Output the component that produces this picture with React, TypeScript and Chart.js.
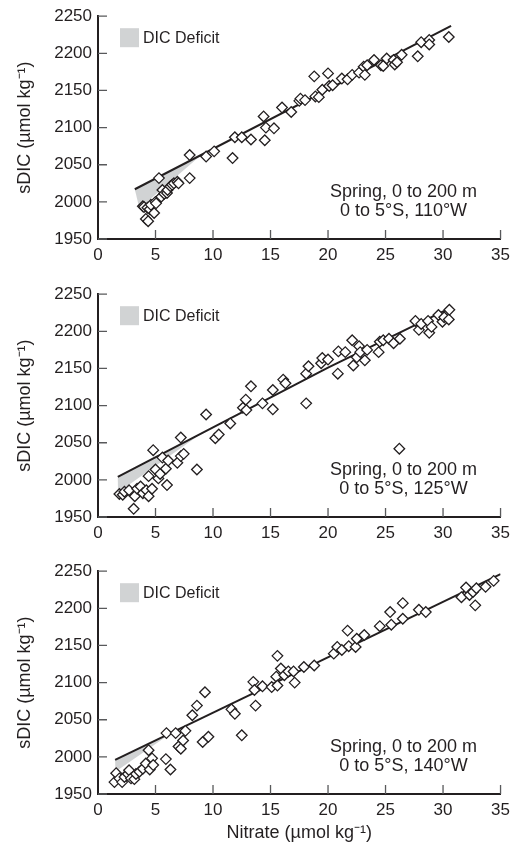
import React, { useEffect, useRef } from "react";
import { Chart, registerables } from "chart.js";

Chart.register(...registerables);

const FONT = "'Liberation Sans', Arial, Helvetica, sans-serif";
const INK = "#231f20";
const TICK_GRAY = "#58595b";
const DEFICIT_GRAY = "#d1d3d4";

// Axis ticks
const xTickValues = [0, 5, 10, 15, 20, 25, 30, 35];
const yTickValues = [1950, 2000, 2050, 2100, 2150, 2200, 2250];

// Texts
const legendLabel = "DIC Deficit";
const yAxisTitle = "sDIC (\u00B5mol kg\u207B\u00B9)";
const xAxisTitle = "Nitrate (\u00B5mol kg\u207B\u00B9)";
const panelLine1 = ["Spring, 0 to 200 m", "Spring, 0 to 200 m", "Spring, 0 to 200 m"];
const panelLine2 = ["0 to 5\u00B0S, 110\u00B0W", "0 to 5\u00B0S, 125\u00B0W", "0 to 5\u00B0S, 140\u00B0W"];

// ---- Panel 1: 110°W ----
const nitrate110 = [
  3.9, 4.0, 4.16, 4.3, 4.36, 4.5, 4.6, 4.88, 5.0, 5.05, 5.3, 5.5, 5.6, 5.76, 6.0, 6.05,
  6.3, 6.45, 6.6, 6.9, 7.0, 7.97, 7.97, 9.4, 10.1, 11.7, 11.9, 12.5, 13.3, 14.4, 14.5,
  14.6, 15.3, 16.0, 16.8, 17.5, 17.6, 18.0, 18.8, 18.9, 19.2, 19.5, 20.0, 20.1, 20.4,
  21.2, 21.7, 22.1, 22.7, 23.1, 23.2, 23.4, 24.0, 24.6, 24.8, 25.1, 25.7, 25.8, 26.0,
  26.4, 27.8, 28.1, 28.8, 28.8, 30.5,
];
const sdic110 = [
  1994, 1993, 1977, 1992, 1974, 1990, 1996, 1985, 2000, 1998, 2032, 2007, 2016, 2011, 2012, 2016,
  2021, 2023, 2025, 2027, 2025, 2063, 2032, 2061, 2068, 2059, 2087, 2087, 2084, 2115, 2083,
  2100, 2099, 2127, 2121, 2136, 2139, 2137, 2169, 2142, 2141, 2151, 2173, 2156, 2157,
  2166, 2165, 2171, 2174, 2182, 2171, 2184, 2191, 2184, 2183, 2193, 2191, 2185, 2188,
  2198, 2196, 2215, 2218, 2212, 2222,
];
const fitNitrate110 = [3.2, 30.7];
const fitSdic110 = [2017, 2237];
const deficitNitrate110 = [3.2, 3.6, 9.05];
const deficitSdic110 = [2017, 1991, 2064];

// ---- Panel 2: 125°W ----
const nitrate125 = [
  1.86, 2.15, 2.3, 2.7, 3.1, 3.2, 3.4, 3.7, 3.9, 4.2, 4.4, 4.4, 4.7, 4.8, 5.0, 5.25, 5.4,
  5.6, 5.9, 6.1, 6.0, 6.9, 7.2, 7.2, 7.45, 8.6, 9.4, 10.2, 10.5, 11.5, 12.6, 12.85, 12.9,
  13.3, 14.3, 15.2, 15.2, 16.1, 16.3, 18.1, 18.1, 18.3, 19.4, 19.5, 20.0, 20.85, 20.9,
  21.5, 22.1, 22.2, 22.5, 22.7, 22.8, 23.2, 23.4, 24.4, 24.5, 24.8, 25.3, 25.7, 26.2,
  26.25, 27.6, 27.9, 28.1, 28.7, 28.8, 29.0, 29.6, 29.95, 30.1, 30.5, 30.55,
];
const sdic125 = [
  1981, 1980, 1984, 1986, 1961, 1978, 1988, 1991, 1982, 1986, 1978, 2005, 1988, 2040, 2014, 2002, 2008,
  2030, 2015, 2026, 1993, 2023, 2057, 2032, 2035, 2014, 2088, 2056, 2061, 2076, 2097, 2108, 2094,
  2126, 2103, 2121, 2095, 2135, 2130, 2103, 2143, 2153, 2157, 2164, 2162, 2143, 2173,
  2172, 2188, 2154, 2165, 2180, 2172, 2161, 2175, 2172, 2186, 2188, 2190, 2184, 2042,
  2190, 2214, 2202, 2210, 2214, 2198, 2206, 2222, 2213, 2219, 2216, 2229,
];
const fitNitrate125 = [1.72, 20, 30.55];
const fitSdic125 = [2004, 2151, 2231];
const deficitNitrate125 = [1.72, 1.74, 9.05];
const deficitSdic125 = [2004, 1983, 2063];

// ---- Panel 3: 140°W ----
const nitrate140 = [
  1.43, 1.58, 1.86, 2.1, 2.3, 2.6, 2.7, 2.87, 3.16, 3.3, 3.6, 3.9, 4.16, 4.4, 4.5, 4.7, 4.8,
  5.9, 5.95, 6.3, 6.75, 7.0, 7.2, 7.4, 7.6, 8.2, 8.6, 9.1, 9.3, 9.6, 11.6, 11.9, 12.5,
  13.5, 13.6, 13.7, 14.3, 15.1, 15.5, 15.6, 15.6, 15.9, 16.2, 16.55, 17.0, 17.1, 17.9,
  18.8, 20.5, 20.8, 21.2, 21.7, 21.8, 22.4, 22.5, 23.15, 24.5, 25.4, 25.5, 26.5, 26.5,
  27.9, 28.5, 31.6, 32.0, 32.3, 32.6, 32.8, 32.9, 33.7, 34.4,
];
const sdic140 = [
  1966, 1978, 1971, 1966, 1973, 1977, 1982, 1971, 1970, 1977, 1980, 1984, 1991, 2009, 1983, 1998, 1989,
  1997, 2032, 1983, 2032, 2014, 2011, 2022, 2035, 2056, 2069, 2020, 2087, 2027, 2064, 2058, 2029,
  2101, 2090, 2069, 2095, 2094, 2108, 2136, 2096, 2119, 2110, 2115, 2115, 2100, 2121,
  2123, 2139, 2148, 2144, 2170, 2149, 2148, 2159, 2164, 2176, 2195, 2178, 2207, 2186,
  2198, 2195, 2215, 2228, 2218, 2222, 2204, 2227, 2229, 2237,
];
const fitNitrate140 = [1.49, 35];
const fitSdic140 = [1996, 2246];
const deficitNitrate140 = [1.49, 1.51, 6.48];
const deficitSdic140 = [1996, 1980, 2033];

const toPoints = (xs: number[], ys: number[]) => xs.map((x, i) => ({ x, y: ys[i] }));

const panels = [
  { obsX: nitrate110, obsY: sdic110, fitX: fitNitrate110, fitY: fitSdic110, defX: deficitNitrate110, defY: deficitSdic110, top: 0, height: 270, showXTitle: false },
  { obsX: nitrate125, obsY: sdic125, fitX: fitNitrate125, fitY: fitSdic125, defX: deficitNitrate125, defY: deficitSdic125, top: 278, height: 270, showXTitle: false },
  { obsX: nitrate140, obsY: sdic140, fitX: fitNitrate140, fitY: fitSdic140, defX: deficitNitrate140, defY: deficitSdic140, top: 555, height: 289, showXTitle: true },
];

const decorPlugin = {
  id: "decor",
  afterDraw(chart: any, _args: any, opts: any) {
    const { ctx, chartArea: a, scales } = chart;
    const xs = scales.x;
    const ys = scales.y;
    ctx.save();
    // inward tick marks
    ctx.strokeStyle = TICK_GRAY;
    ctx.lineWidth = 1.3;
    ctx.beginPath();
    yTickValues.forEach((v) => {
      const y = ys.getPixelForValue(v);
      ctx.moveTo(a.left, y);
      ctx.lineTo(a.left + 9, y);
    });
    xTickValues.forEach((v) => {
      if (v === xs.min) return;
      const x = xs.getPixelForValue(v);
      ctx.moveTo(x, a.bottom);
      ctx.lineTo(x, a.bottom - 9);
    });
    ctx.stroke();

    // legend
    ctx.fillStyle = DEFICIT_GRAY;
    ctx.fillRect(a.left + 22, a.top + 12, 19, 19);
    ctx.fillStyle = INK;
    ctx.font = `16px ${FONT}`;
    ctx.textAlign = "left";
    ctx.textBaseline = "middle";
    ctx.fillText(legendLabel, a.left + 45, a.top + 22.5);

    // annotation
    ctx.font = `18px ${FONT}`;
    ctx.textAlign = "center";
    ctx.fillText(opts.line1, a.right - 97, a.bottom - 47);
    ctx.fillText(opts.line2, a.right - 97, a.bottom - 28);
    ctx.restore();
  },
};

function Panel({ idx }: { idx: number }) {
  const ref = useRef<HTMLCanvasElement | null>(null);
  const p = panels[idx];
  useEffect(() => {
    if (!ref.current) return;
    const tickFont = { family: FONT, size: 17 };
    const chart = new Chart(ref.current, {
      type: "scatter",
      data: {
        datasets: [
          {
            type: "scatter",
            data: toPoints(p.obsX, p.obsY),
            pointStyle: "rectRot",
            pointRadius: 5.3,
            pointBorderWidth: 1.3,
            pointBorderColor: INK,
            pointBackgroundColor: "#ffffff",
            order: 0,
          } as any,
          {
            type: "line",
            data: toPoints(p.fitX, p.fitY),
            borderColor: INK,
            borderWidth: 2,
            pointRadius: 0,
            fill: false,
            tension: 0,
            order: 1,
          } as any,
          {
            type: "line",
            data: toPoints(p.defX, p.defY),
            borderColor: "rgba(0,0,0,0)",
            borderWidth: 0.01,
            backgroundColor: DEFICIT_GRAY,
            pointRadius: 0,
            fill: "shape",
            tension: 0,
            order: 2,
          } as any,
        ],
      },
      options: {
        responsive: false,
        animation: false,
        devicePixelRatio: 1,
        layout: { padding: { top: 16, right: 11, left: 0, bottom: 0 } },
        plugins: {
          legend: { display: false },
          tooltip: { enabled: false },
          decor: { line1: panelLine1[idx], line2: panelLine2[idx] },
        } as any,
        scales: {
          x: {
            type: "linear",
            min: 0,
            max: 35,
            afterBuildTicks: (s: any) => {
              s.ticks = xTickValues.map((v) => ({ value: v }));
            },
            afterFit: (s: any) => {
              s.height = p.height - 239;
            },
            grid: { display: true, drawOnChartArea: false, drawTicks: false },
            border: { display: true, color: INK, width: 2 },
            ticks: {
              padding: 6,
              font: tickFont,
              color: INK,
              maxRotation: 0,
              autoSkip: false,
              callback: (v: any) => String(v),
            },
            title: {
              display: p.showXTitle,
              text: xAxisTitle,
              font: { family: FONT, size: 18 },
              color: INK,
              padding: { top: 0, bottom: 0 },
            },
          },
          y: {
            type: "linear",
            min: 1950,
            max: 2250,
            afterBuildTicks: (s: any) => {
              s.ticks = yTickValues.map((v) => ({ value: v }));
            },
            afterFit: (s: any) => {
              s.width = 98;
            },
            grid: { display: true, drawOnChartArea: false, drawTicks: false },
            border: { display: true, color: INK, width: 2 },
            ticks: {
              padding: 6,
              font: tickFont,
              color: INK,
              autoSkip: false,
              callback: (v: any) => String(v),
            },
            title: {
              display: true,
              text: yAxisTitle,
              font: { family: FONT, size: 18 },
              color: INK,
              padding: { top: 14, bottom: 0 },
            },
          },
        },
      } as any,
      plugins: [decorPlugin],
    });
    return () => chart.destroy();
  }, [idx]);
  return (
    <canvas
      ref={ref}
      width={516}
      height={p.height}
      style={{ position: "absolute", left: 0, top: p.top, width: 516, height: p.height }}
    />
  );
}

export default function App() {
  return (
    <div style={{ position: "absolute", left: 0, top: 0, width: 516, height: 844, background: "#ffffff" }}>
      {panels.map((_, i) => (
        <Panel key={i} idx={i} />
      ))}
    </div>
  );
}
